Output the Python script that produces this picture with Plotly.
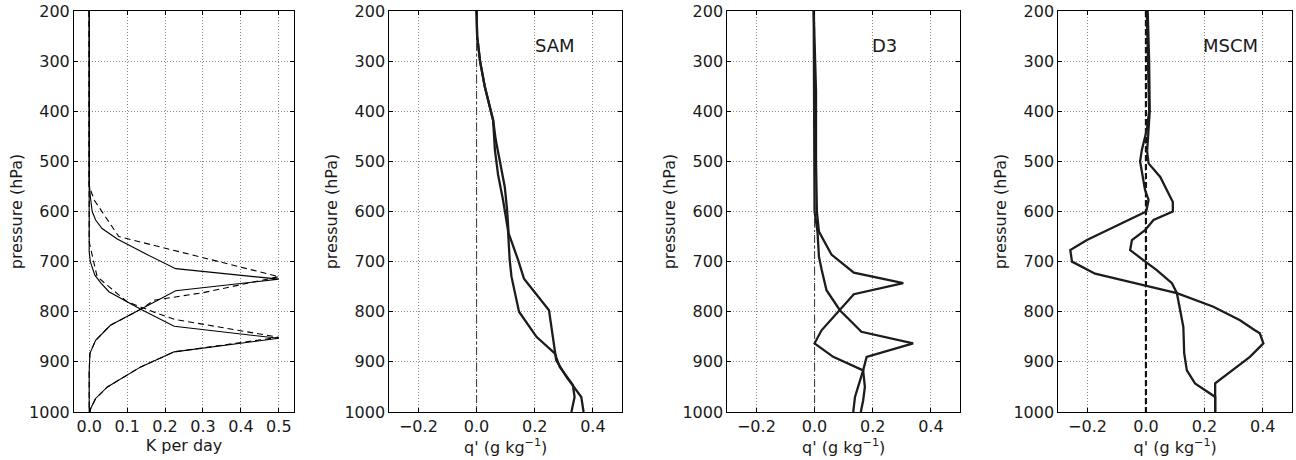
import plotly.graph_objects as go

# ---------------- Panel 1: heating profiles (K per day) ----------------
heat_upper_solid_x = [0, 0, 0.003, 0.008, 0.017, 0.034, 0.074, 0.15, 0.228, 0.5, 0.228, 0.136, 0.056, 0.017, 0.002, 0, 0]
heat_upper_solid_p = [200, 540, 570, 600, 617, 634, 655, 685, 714, 735, 758, 795, 827, 857, 883, 920, 1000]

heat_upper_dash_x = [0, 0, 0.014, 0.078, 0.5, 0.3, 0.171, 0.136, 0.056, 0.017, 0.002, 0, 0]
heat_upper_dash_p = [200, 550, 578, 650, 730, 762, 777, 795, 827, 857, 883, 920, 1000]

heat_lower_solid_x = [0, 0, 0.003, 0.015, 0.03, 0.052, 0.136, 0.224, 0.5, 0.224, 0.136, 0.048, 0.017, 0.004, 0.002]
heat_lower_solid_p = [200, 680, 700, 727, 742, 760, 795, 829, 853, 880, 910, 950, 973, 993, 1000]

heat_lower_dash_x = [0, 0, 0.004, 0.012, 0.021, 0.06, 0.1, 0.179, 0.224, 0.5, 0.224, 0.136, 0.048, 0.017, 0.004, 0.002]
heat_lower_dash_p = [200, 660, 674, 700, 730, 755, 780, 803, 815, 851, 880, 910, 950, 973, 993, 1000]

# ---------------- Panel 2: SAM ----------------
sam_a_x = [0.0, 0.002, 0.012, 0.028, 0.045, 0.057, 0.063, 0.074, 0.091, 0.108, 0.114, 0.12, 0.146, 0.206, 0.269, 0.286, 0.331, 0.337, 0.326]
sam_a_p = [200, 250, 300, 350, 390, 418, 477, 527, 577, 637, 697, 730, 800, 850, 883, 910, 946, 970, 1000]
sam_b_x = [0.0, 0.002, 0.012, 0.028, 0.045, 0.057, 0.066, 0.097, 0.105, 0.11, 0.143, 0.163, 0.249, 0.263, 0.274, 0.309, 0.335, 0.36, 0.368]
sam_b_p = [200, 250, 300, 350, 390, 418, 457, 551, 597, 643, 697, 734, 797, 857, 897, 930, 950, 970, 1000]

# ---------------- Panel 3: D3 ----------------
d3_a_x = [-0.003, 0.002, 0.005, 0.005, 0.008, 0.015, 0.058, 0.135, 0.305, 0.135, 0.087, 0.024, 0.0, 0.064, 0.167, 0.15, 0.139, 0.133]
d3_a_p = [200, 300, 360, 500, 600, 640, 686, 722, 743, 765, 797, 837, 863, 890, 917, 947, 970, 1000]
d3_b_x = [-0.003, -0.002, -0.003, -0.002, 0.0, 0.01, 0.015, 0.024, 0.041, 0.087, 0.161, 0.339, 0.179, 0.167, 0.173, 0.167, 0.159]
d3_b_p = [200, 300, 400, 500, 600, 640, 690, 715, 757, 797, 840, 863, 890, 917, 950, 977, 1000]

# ---------------- Panel 4: MSCM ----------------
mscm_a_x = [0.003, 0.008, 0.011, 0.003, -0.014, -0.02, -0.003, 0.009, 0.001, -0.202, -0.259, -0.253, -0.174, -0.009, 0.106, 0.231, 0.322, 0.373, 0.39, 0.402, 0.356, 0.237, 0.237]
mscm_a_p = [200, 300, 400, 437, 477, 500, 557, 577, 600, 657, 677, 700, 724, 747, 763, 790, 817, 837, 843, 863, 890, 943, 1000]
mscm_b_x = [0.006, 0.011, 0.013, 0.008, 0.004, 0.009, 0.049, 0.092, 0.092, 0.026, -0.003, -0.048, -0.054, -0.009, 0.037, 0.089, 0.106, 0.128, 0.131, 0.14, 0.168, 0.237, 0.237]
mscm_b_p = [200, 300, 400, 450, 480, 504, 531, 581, 600, 617, 637, 657, 677, 697, 717, 743, 763, 830, 883, 917, 943, 970, 1000]

# zero reference line
zero_x = [0, 0]
zero_p = [200, 1000]

# ticks / labels
p_ticks = [200, 300, 400, 500, 600, 700, 800, 900, 1000]
heat_ticks = [0.0, 0.1, 0.2, 0.3, 0.4, 0.5]
heat_ticktext = ["0.0", "0.1", "0.2", "0.3", "0.4", "0.5"]
q_ticks = [-0.2, 0.0, 0.2, 0.4]
q_ticktext = ["\u22120.2", "0.0", "0.2", "0.4"]
panel_labels = ["SAM", "D3", "MSCM"]
panel_label_x = [0.27, 0.24, 0.29]
panel_label_p = 268

W, H = 1296, 460
FONT = "DejaVu Sans"
TXT = "#1a1a1a"
FS = 16

fig = go.Figure()

thin = dict(color="black", width=1.1)
thin_dash = dict(color="black", width=1.1, dash="6px,4px")
fig.add_trace(go.Scatter(x=heat_upper_solid_x, y=heat_upper_solid_p, mode="lines", line=thin, xaxis="x", yaxis="y"))
fig.add_trace(go.Scatter(x=heat_upper_dash_x, y=heat_upper_dash_p, mode="lines", line=thin_dash, xaxis="x", yaxis="y"))
fig.add_trace(go.Scatter(x=heat_lower_solid_x, y=heat_lower_solid_p, mode="lines", line=thin, xaxis="x", yaxis="y"))
fig.add_trace(go.Scatter(x=heat_lower_dash_x, y=heat_lower_dash_p, mode="lines", line=thin_dash, xaxis="x", yaxis="y"))

thick = dict(color="#1c1c1c", width=2.3)
dashdot = dict(color="#444444", width=1.1, dash="8px,3px,2px,3px")
for ax, (ax_x, ax_p, bx, bp) in zip(
    ["2", "3", "4"],
    [(sam_a_x, sam_a_p, sam_b_x, sam_b_p), (d3_a_x, d3_a_p, d3_b_x, d3_b_p), (mscm_a_x, mscm_a_p, mscm_b_x, mscm_b_p)],
):
    zl = dashdot if ax != "4" else dict(color="#111111", width=2.2, dash="6px,3px")
    fig.add_trace(go.Scatter(x=zero_x, y=zero_p, mode="lines", line=zl, xaxis="x" + ax, yaxis="y" + ax))
    fig.add_trace(go.Scatter(x=ax_x, y=ax_p, mode="lines", line=thick, xaxis="x" + ax, yaxis="y" + ax))
    fig.add_trace(go.Scatter(x=bx, y=bp, mode="lines", line=thick, xaxis="x" + ax, yaxis="y" + ax))

# domains (pixels -> paper)
xdom_px = [(74, 294), (389.3, 622), (727.3, 960), (1058.3, 1292)]
ydom = [1 - 412 / H, 1 - 11 / H]

common_axis = dict(
    showline=True, linecolor="black", linewidth=1, mirror="ticks",
    ticks="inside", ticklen=4, tickcolor="black", automargin=False,
    showgrid=True, gridcolor="#8a8a8a", gridwidth=1, griddash="1px,2px",
    zeroline=False, tickfont=dict(family=FONT, size=FS, color=TXT),
)

layout = dict(
    template="none",
    width=W, height=H,
    margin=dict(l=0, r=0, t=0, b=0, pad=0),
    paper_bgcolor="white", plot_bgcolor="white",
    showlegend=False,
    font=dict(family=FONT, size=FS, color=TXT),
)

for i, (x0, x1) in enumerate(xdom_px):
    n = "" if i == 0 else str(i + 1)
    if i == 0:
        xa = dict(common_axis, range=[-0.04, 0.54], tickvals=heat_ticks, ticktext=heat_ticktext,
                  title=dict(text="K per day", font=dict(family=FONT, size=FS, color=TXT), standoff=2))
    else:
        xa = dict(common_axis, range=[-0.3, 0.5], tickvals=q_ticks, ticktext=q_ticktext,
                  title=dict(text="q' (g kg<sup>\u22121</sup>)", font=dict(family=FONT, size=FS, color=TXT), standoff=2))
    xa.update(domain=[x0 / W, x1 / W], anchor="y" + n)
    ya = dict(common_axis, range=[1000, 200], tickvals=p_ticks,
              title=dict(text="pressure (hPa)", font=dict(family=FONT, size=FS, color=TXT), standoff=2),
              domain=ydom, anchor="x" + n)
    layout["xaxis" + n] = xa
    layout["yaxis" + n] = ya

fig.update_layout(**layout)

for k, (lab, lx) in enumerate(zip(panel_labels, panel_label_x)):
    n = str(k + 2)
    fig.add_annotation(x=lx, y=panel_label_p, xref="x" + n, yref="y" + n, text=lab, showarrow=False,
                       font=dict(family=FONT, size=18, color=TXT), xanchor="center", yanchor="middle")

fig.write_html("out.html")
